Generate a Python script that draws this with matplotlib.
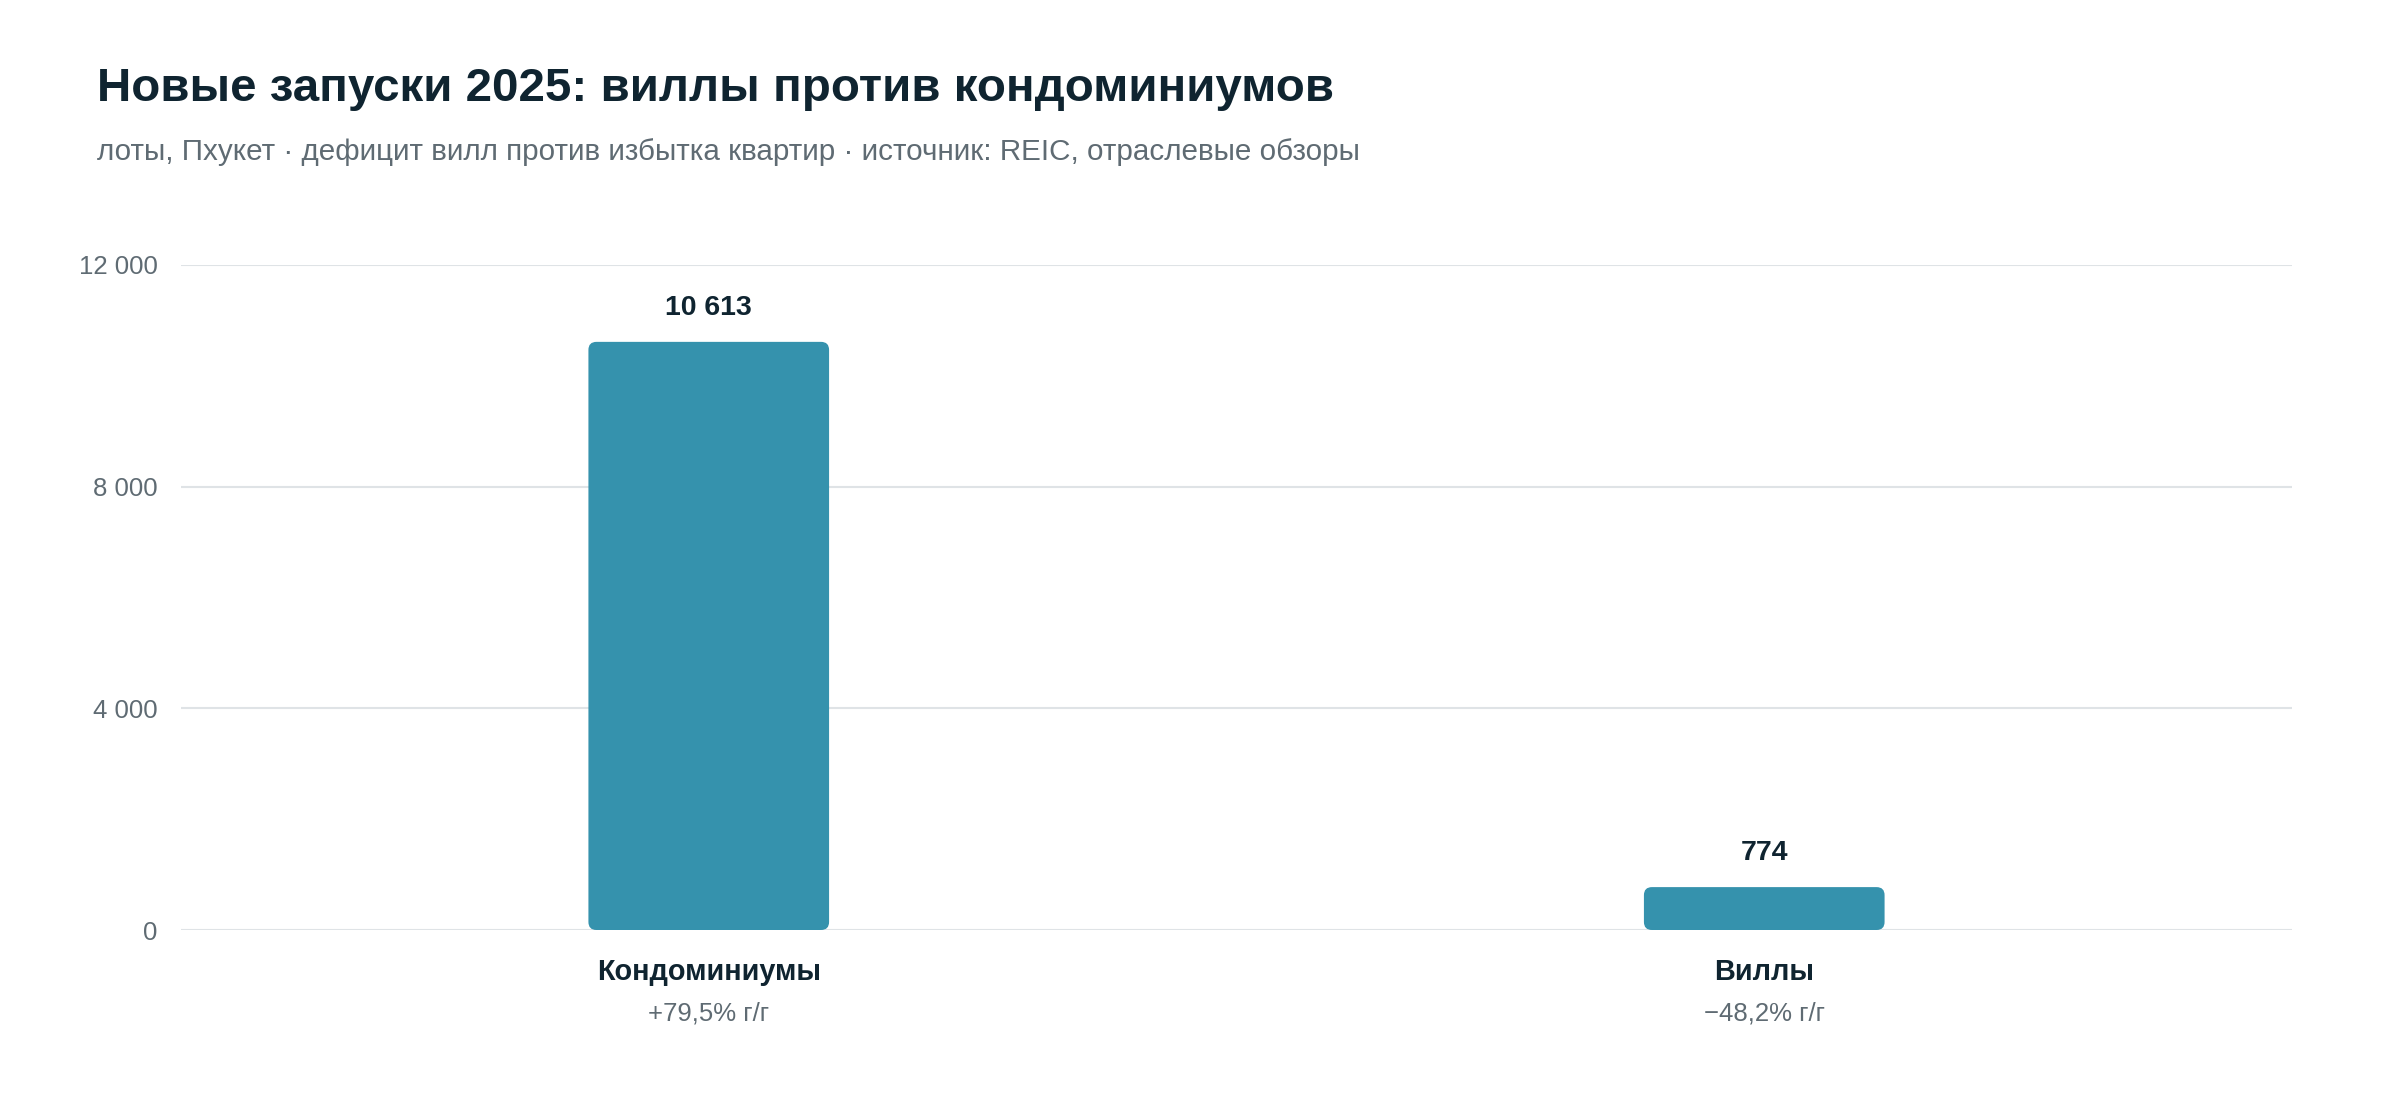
import matplotlib
matplotlib.use("Agg")
import matplotlib.pyplot as plt
from matplotlib.patches import FancyBboxPatch

categories = ["Кондоминиумы", "Виллы"]
launches = [10613, 774]
yoy_labels = ["+79,5% г/г", "\u221248,2% г/г"]
y_ticks = [0, 4000, 8000, 12000]

title = "Новые запуски 2025: виллы против кондоминиумов"
subtitle = "лоты, Пхукет · дефицит вилл против избытка квартир · источник: REIC, отраслевые обзоры"

bar_color = "#3592ad"
dark = "#0f2430"
grey = "#5f6b73"
grid_color = "#dfe3e6"

plt.rcParams["font.family"] = ["Liberation Sans", "DejaVu Sans"]

W, H = 2400, 1120
fig = plt.figure(figsize=(W / 100, H / 100), dpi=100)
fig.patch.set_facecolor("white")

ax_left, ax_right, ax_top, ax_bottom = 181, 2292, 265, 930
ax = fig.add_axes([ax_left / W, 1 - ax_bottom / H, (ax_right - ax_left) / W, (ax_bottom - ax_top) / H])
ax.set_xlim(-0.5, 1.5)
ax.set_ylim(0, 12000)

for s in ax.spines.values():
    s.set_visible(False)
ax.set_yticks(y_ticks)
ax.set_yticklabels([f"{v:,}".replace(",", " ") for v in y_ticks], fontsize=18.5, color=grey)
ax.tick_params(axis="y", length=0, pad=17)
ax.set_xticks([])
ax.grid(axis="y", color=grid_color, linewidth=1.5)
ax.set_axisbelow(True)

# rounded bars; aspect so the corners stay circular in pixels
x_per_px = 2.0 / (ax_right - ax_left)
y_per_px = 12000.0 / (ax_bottom - ax_top)
bar_w = 0.228
radius_px = 8
for i, v in enumerate(launches):
    p = FancyBboxPatch((i - bar_w / 2, 0), bar_w, v,
                       boxstyle=f"round,pad=0,rounding_size={radius_px * x_per_px}",
                       mutation_aspect=y_per_px / x_per_px,
                       facecolor=bar_color, edgecolor="none", zorder=3)
    ax.add_patch(p)
    ax.annotate(f"{v:,}".replace(",", " "), (i, v), xytext=(0, 34), textcoords="offset pixels",
                ha="center", va="center", fontsize=20.5, fontweight="bold", color=dark)
    ax.annotate(categories[i], (i, 0), xytext=(0, -42), textcoords="offset pixels",
                ha="center", va="center", fontsize=20.8, fontweight="bold", color=dark,
                annotation_clip=False)
    ax.annotate(yoy_labels[i], (i, 0), xytext=(0, -84), textcoords="offset pixels",
                ha="center", va="center", fontsize=18.5, color=grey, annotation_clip=False)

fig.text(97 / W, 1 - 89 / H, title, fontsize=34.2, fontweight="bold", color=dark, va="center", ha="left")
fig.text(97 / W, 1 - 152 / H, subtitle, fontsize=21.3, color=grey, va="center", ha="left")

fig.savefig("out.png", dpi=100, facecolor="white")
